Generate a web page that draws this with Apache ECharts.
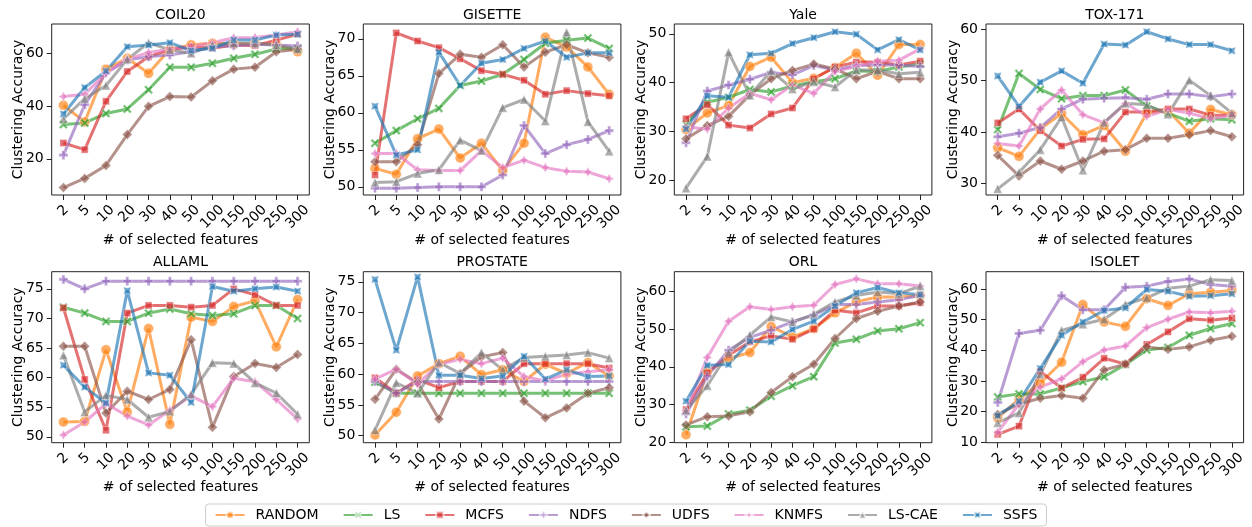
<!DOCTYPE html>
<html>
<head>
<meta charset="utf-8">
<script src="https://cdn.jsdelivr.net/npm/echarts@6/dist/echarts.min.js"></script>
<style>
html,body{margin:0;padding:0;background:#fff;}
#c{width:1252px;height:527px;}
</style>
</head>
<body>
<div id="c"></div>
<script>
// ---------- DATA ----------
const categories = ['2','5','10','20','30','40','50','100','150','200','250','300'];
const methods = ['RANDOM','LS','MCFS','NDFS','UDFS','KNMFS','LS-CAE','SSFS'];
const datasetNames = ['COIL20','GISETTE','Yale','TOX-171','ALLAML','PROSTATE','ORL','ISOLET'];

// rows: RANDOM, LS, MCFS, NDFS, UDFS, KNMFS, LS-CAE, SSFS
const coil20 = [
  [40.3, 34.0, 54.0, 58.1, 52.4, 61.5, 63.2, 63.8, 63.6, 63.6, 63.4, 60.6],
  [33.0, 33.6, 37.2, 38.9, 46.2, 54.7, 54.7, 56.2, 58.1, 59.6, 61.6, 61.9],
  [26.0, 23.5, 41.8, 53.1, 58.7, 61.3, 62.5, 61.9, 63.1, 62.9, 65.0, 67.2],
  [21.4, 40.5, 52.5, 57.5, 58.7, 59.4, 60.6, 62.5, 62.9, 63.4, 63.1, 62.8],
  [9.1, 12.6, 17.5, 29.2, 39.9, 43.6, 43.4, 49.6, 54.0, 54.7, 60.6, 61.5],
  [43.6, 44.5, 52.5, 57.7, 60.3, 61.5, 62.5, 64.0, 65.9, 66.0, 66.9, 68.2],
  [35.1, 42.8, 47.8, 57.7, 64.0, 61.3, 60.0, 63.1, 63.8, 63.8, 63.1, 61.6],
  [37.0, 47.0, 53.3, 62.5, 63.1, 64.0, 61.0, 61.9, 65.0, 65.0, 66.9, 67.2]
];
const gisette = [
  [52.5, 51.7, 56.5, 57.8, 53.9, 55.9, 52.2, 55.9, 70.2, 68.9, 66.2, 62.5],
  [55.9, 57.6, 59.2, 60.6, 63.7, 64.3, 65.2, 67.2, 69.4, 69.8, 70.1, 68.7],
  [51.6, 70.8, 69.7, 68.8, 67.3, 65.7, 65.2, 64.4, 62.5, 63.0, 62.6, 62.3],
  [49.8, 49.8, 49.9, 50.0, 50.0, 50.0, 51.6, 58.3, 54.5, 55.7, 56.4, 57.6],
  [53.4, 53.4, 55.7, 65.3, 67.9, 67.5, 69.2, 66.2, 68.2, 69.2, 68.1, 67.5],
  [54.5, 54.5, 52.3, 52.2, 52.2, 54.9, 52.6, 53.6, 52.6, 52.1, 52.0, 51.1],
  [50.6, 50.7, 51.8, 52.3, 56.3, 54.9, 60.7, 61.8, 58.9, 70.9, 58.8, 54.8],
  [60.9, 54.3, 55.0, 68.2, 63.7, 66.7, 67.2, 68.7, 69.7, 67.5, 68.1, 68.1]
];
const yale = [
  [30.4, 33.8, 35.3, 43.3, 45.2, 40.0, 40.9, 43.1, 46.0, 41.5, 47.8, 47.8],
  [31.5, 36.0, 37.0, 38.6, 38.1, 39.3, 40.2, 40.8, 42.4, 42.3, 43.2, 43.8],
  [32.6, 35.5, 31.3, 30.7, 33.6, 34.8, 40.8, 43.2, 44.2, 44.2, 43.6, 44.4],
  [27.7, 38.3, 39.5, 40.7, 42.1, 41.6, 43.5, 42.6, 43.5, 43.6, 43.6, 43.3],
  [28.5, 31.2, 33.1, 37.5, 40.8, 42.5, 43.8, 42.8, 40.8, 42.3, 40.8, 40.8],
  [30.9, 30.5, 34.8, 37.8, 36.5, 39.5, 37.8, 42.3, 43.3, 44.4, 44.6, 46.9],
  [18.4, 24.9, 46.2, 37.4, 42.4, 38.7, 40.2, 39.1, 42.6, 42.6, 41.8, 42.1],
  [30.5, 37.3, 37.0, 45.7, 46.0, 48.0, 49.2, 50.4, 49.9, 46.7, 48.8, 46.7]
];
const tox171 = [
  [37.0, 35.3, 40.6, 43.6, 39.5, 41.3, 36.3, 43.7, 44.2, 39.8, 44.4, 43.4],
  [40.5, 51.4, 48.3, 46.5, 47.1, 47.1, 48.2, 45.1, 43.7, 42.1, 42.6, 42.4],
  [41.8, 44.5, 40.3, 37.3, 38.6, 38.7, 43.9, 43.9, 44.5, 44.5, 43.3, 43.3],
  [39.1, 39.8, 40.9, 44.5, 46.4, 46.6, 46.7, 46.4, 47.4, 47.4, 46.9, 47.4],
  [35.5, 31.5, 34.4, 32.8, 34.4, 36.3, 36.6, 38.8, 38.8, 39.5, 40.3, 39.1],
  [37.8, 37.3, 44.5, 48.2, 43.4, 41.8, 45.6, 43.1, 44.4, 43.7, 42.6, 43.3],
  [29.0, 32.2, 36.6, 42.9, 32.6, 41.9, 45.6, 45.3, 43.5, 50.1, 47.1, 43.7],
  [50.9, 45.0, 49.7, 51.9, 49.5, 57.1, 56.9, 59.5, 58.1, 57.0, 57.0, 55.8]
];
const allaml = [
  [52.5, 52.6, 64.7, 54.2, 68.3, 52.1, 70.2, 69.5, 72.0, 73.0, 65.2, 73.2],
  [71.9, 70.9, 69.5, 69.5, 70.9, 71.6, 70.8, 70.5, 70.8, 72.2, 72.2, 70.0],
  [71.8, 59.7, 51.1, 70.9, 72.2, 72.2, 71.9, 72.2, 75.0, 74.0, 72.2, 72.2],
  [76.6, 75.0, 76.3, 76.3, 76.3, 76.3, 76.3, 76.3, 76.3, 76.3, 76.3, 76.3],
  [65.3, 65.3, 54.0, 57.7, 56.3, 58.0, 66.4, 51.6, 60.2, 62.4, 61.7, 63.9],
  [50.3, 52.5, 55.6, 53.5, 52.0, 54.5, 56.9, 55.1, 59.9, 59.3, 56.3, 53.0],
  [63.8, 54.2, 57.0, 56.3, 53.3, 54.3, 57.2, 62.5, 62.4, 59.1, 57.4, 53.8],
  [62.1, 58.4, 55.7, 74.7, 60.8, 60.4, 55.8, 75.4, 74.6, 75.0, 75.3, 74.6]
];
const prostate = [
  [50.1, 53.8, 59.7, 61.7, 62.9, 59.9, 60.7, 58.8, 61.6, 60.1, 61.9, 59.7],
  [58.7, 56.9, 56.9, 56.9, 56.9, 56.9, 56.9, 56.9, 56.9, 56.9, 56.9, 56.9],
  [59.4, 56.9, 59.1, 57.8, 58.8, 58.8, 58.8, 61.7, 61.7, 61.7, 61.7, 61.0],
  [58.8, 56.9, 58.8, 58.8, 58.8, 58.8, 58.8, 58.8, 58.8, 58.8, 58.8, 58.8],
  [55.9, 60.8, 58.6, 52.7, 60.1, 62.8, 63.5, 55.6, 52.9, 54.5, 56.9, 57.8],
  [59.2, 60.8, 58.4, 61.6, 62.4, 61.7, 62.6, 59.6, 58.9, 60.0, 60.4, 60.7],
  [50.9, 58.6, 56.9, 61.9, 60.1, 63.5, 60.7, 62.7, 62.9, 63.1, 63.5, 62.6],
  [75.4, 63.9, 75.8, 59.8, 59.8, 59.3, 59.7, 62.9, 59.2, 60.7, 59.6, 59.7]
];
const orl = [
  [22.0, 38.7, 42.2, 43.8, 50.7, 47.9, 50.1, 54.3, 57.2, 58.5, 58.5, 58.9],
  [24.1, 24.3, 27.5, 28.5, 32.2, 35.0, 37.4, 46.3, 47.3, 49.5, 50.1, 51.7],
  [28.7, 38.4, 43.1, 46.6, 48.2, 47.3, 50.0, 55.0, 54.3, 56.1, 56.1, 57.0],
  [27.5, 37.5, 44.4, 47.8, 49.7, 51.9, 53.7, 56.5, 56.5, 57.2, 57.8, 58.9],
  [24.6, 26.8, 27.0, 28.1, 33.2, 37.4, 40.7, 47.5, 52.8, 54.7, 56.1, 57.2],
  [28.4, 42.5, 52.1, 55.9, 55.2, 55.9, 56.3, 61.8, 63.3, 62.0, 62.0, 61.4],
  [28.5, 35.0, 43.8, 48.4, 53.2, 51.9, 53.9, 57.2, 58.9, 59.8, 59.4, 61.4],
  [30.9, 40.4, 40.6, 46.8, 46.6, 49.9, 52.1, 56.1, 59.6, 61.0, 59.6, 59.1]
];
const isolet = [
  [18.0, 24.1, 29.3, 36.1, 54.9, 49.2, 47.8, 56.8, 54.6, 58.4, 58.9, 59.5],
  [24.8, 25.8, 25.8, 27.7, 29.8, 31.4, 35.4, 40.1, 40.9, 44.9, 47.1, 48.7],
  [12.6, 15.3, 33.1, 27.7, 31.2, 37.4, 35.5, 41.9, 46.0, 50.3, 49.8, 50.5],
  [23.0, 45.5, 46.5, 57.8, 53.2, 53.2, 60.5, 60.9, 62.4, 63.2, 61.4, 60.9],
  [19.1, 22.5, 24.4, 25.3, 24.4, 33.6, 35.5, 41.1, 40.3, 41.1, 43.3, 44.6],
  [13.3, 22.5, 28.0, 30.7, 36.3, 40.1, 41.4, 47.4, 50.1, 52.5, 52.2, 52.7],
  [16.4, 19.6, 32.2, 46.5, 48.5, 50.1, 54.9, 57.1, 60.2, 60.9, 63.0, 62.7],
  [18.7, 23.4, 34.1, 44.9, 49.2, 53.0, 53.8, 59.8, 59.2, 57.6, 57.8, 58.4]
];
const allValues = [coil20, gisette, yale, tox171, allaml, prostate, orl, isolet];

// y tick labels per panel
const yTicks = [
  [20, 40, 60],
  [50, 55, 60, 65, 70],
  [20, 30, 40, 50],
  [30, 40, 50, 60],
  [50, 55, 60, 65, 70, 75],
  [50, 55, 60, 65, 70, 75],
  [20, 30, 40, 50, 60],
  [10, 20, 30, 40, 50, 60]
];

// ---------- LAYOUT / STYLE ----------
const yRanges = [
  [6.3, 71.1], [48.9, 72.0], [17.0, 52.0], [27.8, 61.0],
  [49.0, 77.9], [48.85, 76.65], [19.9, 65.2], [9.9, 65.6]
];
const colLeft = [51.7, 363.3, 674.3, 986];
const rowTop = [24, 271.7];
const gridW = 257.6, gridH = 171;
const colors = ['#ff7f0e','#2ca02c','#d62728','#9467bd','#8c564b','#e377c2','#7f7f7f','#1f77b4'];
const pX = 'path://M0,2 L2,0 L5,3 L8,0 L10,2 L7,5 L10,8 L8,10 L5,7 L2,10 L0,8 L3,5 Z';
const pP = 'path://M3.3,0 L6.7,0 L6.7,3.3 L10,3.3 L10,6.7 L6.7,6.7 L6.7,10 L3.3,10 L3.3,6.7 L0,6.7 L0,3.3 L3.3,3.3 Z';
const pStar = 'path://M5,0 L6.77,3.23 L10,5 L6.77,6.77 L5,10 L3.23,6.77 L0,5 L3.23,3.23 Z';
const pStarX = 'path://M8.54,1.46 L7.5,5 L8.54,8.54 L5,7.5 L1.46,8.54 L2.5,5 L1.46,1.46 L5,2.5 Z';
const symbols = ['circle', pX, 'rect', pP, 'diamond', pStar, 'triangle', pStarX];
const symbolSizes = [10, 9, 7, 9, 10, 10, 9, 7.5];
const FONT = 'DejaVu Sans';
const TICK_FS = 14;
const digitW = TICK_FS * 0.636;

const grids = [], xAxes = [], yAxes = [], titles = [], series = [];
for (let g = 0; g < 8; g++) {
  const r = Math.floor(g / 4), c = g % 4;
  const left = colLeft[c], top = rowTop[r];
  grids.push({left: left, top: top, width: gridW, height: gridH, show: true,
    borderColor: '#222', borderWidth: 1, backgroundColor: 'transparent', containLabel: false});
  titles.push({text: datasetNames[g], left: left + gridW / 2, top: top - 16, textAlign: 'center', padding: 0,
    textStyle: {fontFamily: FONT, fontSize: 14, fontWeight: 'normal', color: '#000'}});
  const idx = categories.map((_, i) => i);
  xAxes.push({
    gridIndex: g, type: 'value', min: -0.55, max: 11.55,
    name: '# of selected features', nameLocation: 'middle', nameGap: 38, nameMoveOverlap: false,
    nameTextStyle: {fontFamily: FONT, fontSize: 14, color: '#000'},
    axisLine: {show: false, onZero: false},
    axisTick: {show: true, length: 5, customValues: idx, lineStyle: {color: '#222', width: 1}},
    splitLine: {show: false},
    axisLabel: {
      customValues: idx, rotate: 45, align: 'center', verticalAlign: 'middle', margin: 22,
      formatter: v => {
        const t = categories[Math.round(v)];
        return '{d' + t.length + '|' + t + '}';
      },
      rich: {
        d1: {fontFamily: FONT, fontSize: TICK_FS, color: '#000', padding: [0, 0, digitW, digitW]},
        d2: {fontFamily: FONT, fontSize: TICK_FS, color: '#000', padding: [0, 0, digitW / 2, digitW / 2]},
        d3: {fontFamily: FONT, fontSize: TICK_FS, color: '#000'}
      }
    }
  });
  yAxes.push({
    gridIndex: g, type: 'value', min: yRanges[g][0], max: yRanges[g][1],
    name: 'Clustering Accuracy', nameLocation: 'middle', nameGap: 26, nameMoveOverlap: false,
    nameTextStyle: {fontFamily: FONT, fontSize: 14, color: '#000'},
    axisLine: {show: false, onZero: false},
    axisTick: {show: true, length: 5, customValues: yTicks[g], lineStyle: {color: '#222', width: 1}},
    splitLine: {show: false},
    axisLabel: {customValues: yTicks[g], margin: 8, fontFamily: FONT, fontSize: TICK_FS, color: '#000'}
  });
  const vals = allValues[g];
  for (let k = 0; k < methods.length; k++) {
    series.push({
      type: 'line', name: methods[k], xAxisIndex: g, yAxisIndex: g,
      data: vals[k].map((v, i) => [i, v]),
      symbol: symbols[k], symbolSize: symbolSizes[k], showAllSymbol: true,
      itemStyle: {color: colors[k], opacity: 0.65, borderColor: '#fff', borderWidth: 0.6},
      lineStyle: {color: colors[k], width: 3, opacity: 0.65},
      emphasis: {disabled: true}, animation: false, silent: true
    });
  }
}

const chart = echarts.init(document.getElementById('c'), null, {renderer: 'canvas'});
chart.setOption({
  backgroundColor: '#fff',
  animation: false,
  title: titles,
  grid: grids,
  xAxis: xAxes,
  yAxis: yAxes,
  legend: {
    data: methods, top: 504, left: 'center', orient: 'horizontal',
    itemWidth: 29, itemHeight: 9, itemGap: 24,
    padding: [4, 9, 4, 9], borderColor: '#ccc', borderWidth: 1, borderRadius: 3,
    backgroundColor: '#fff',
    textStyle: {fontFamily: FONT, fontSize: 14, color: '#000', padding: [0, 0, 0, 6]}
  },
  series: series
});
</script>
</body>
</html>
